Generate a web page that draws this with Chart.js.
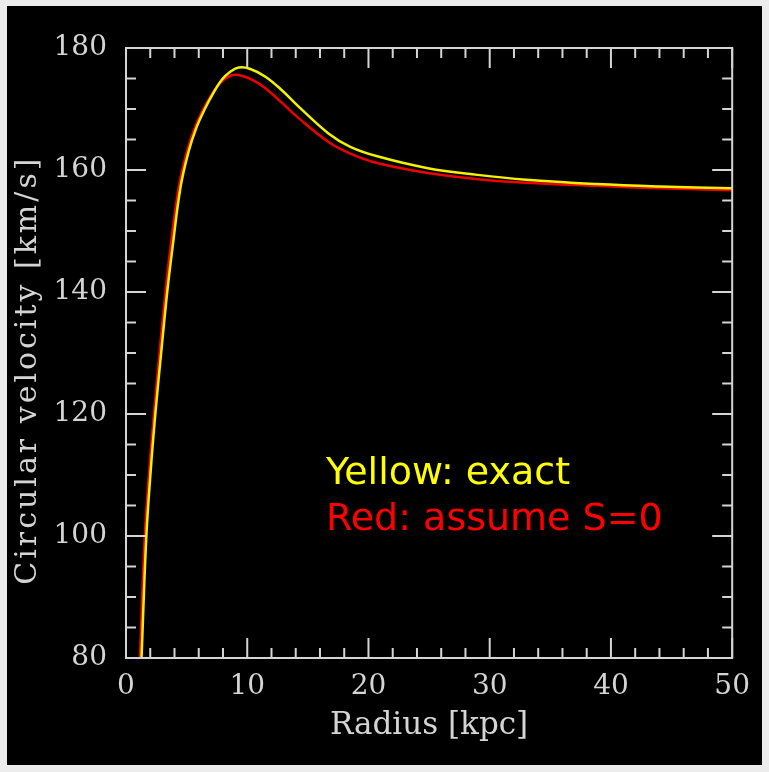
<!DOCTYPE html>
<html>
<head>
<meta charset="utf-8">
<script src="https://cdn.jsdelivr.net/npm/chart.js@4.4.1/dist/chart.umd.min.js"></script>
<style>
    body { margin: 0; background: #ececec; }
    #wrap { position: absolute; left: 7px; top: 6px; width: 755px; height: 759px; background: #000; }
    canvas { display: block; }
</style>
</head>
<body>
<div id="wrap"><canvas id="rotCurve" width="755" height="759"></canvas></div>
<script>
// radius [kpc] and circular velocity [km/s]
const yellowR = [1.28, 1.68, 2.05, 2.42, 2.9, 3.4, 3.82, 4.5, 5.16, 5.8, 6.5, 7.2, 7.9, 8.6, 9.3, 10.2, 11.5, 12.9, 14.24, 16.7, 18.5, 20.8, 24.9, 29.0, 33.0, 38.8, 44.0, 50.0];
const yellowV = [80, 100, 111, 120, 130, 140, 147, 157.2, 163.0, 166.9, 170.0, 172.6, 174.8, 176.1, 176.8, 176.6, 175.3, 173.0, 170.4, 166.0, 163.8, 162.2, 160.3, 159.2, 158.4, 157.7, 157.3, 157.0];

const redR = [1.15, 1.55, 1.93, 2.3, 2.76, 3.25, 3.65, 4.35, 5.0, 5.65, 6.35, 7.05, 7.75, 8.45, 9.0, 9.6, 10.5, 11.5, 12.87, 14.24, 16.7, 18.5, 20.8, 24.9, 29.0, 33.0, 38.8, 44.0, 50.0];
const redV = [80, 100, 111, 120, 130, 140, 147, 157.2, 162.9, 166.8, 169.9, 172.3, 174.2, 175.3, 175.6, 175.4, 174.7, 173.4, 171.0, 168.5, 164.6, 162.7, 161.1, 159.5, 158.5, 157.9, 157.4, 157.0, 156.7];

const xTitle = "Radius [kpc]";
const yTitle = "Circular velocity [km/s]";
const notes = [
    { text: "Yellow: exact", color: "#ffff00", x: 16.5, y: 108.6 },
    { text: "Red: assume S=0", color: "#ff0000", x: 16.5, y: 101.0 }
];

const axisColor = "#d4d4d4";

function toPoints(xs, ys) {
    return xs.map((x, i) => ({ x: x, y: ys[i] }));
}

// frame with inward ticks on all four sides, plus y title and notes
const framePlugin = {
    id: "frame",
    afterDraw(chart) {
        const ctx = chart.ctx;
        const ca = chart.chartArea;
        const xs = chart.scales.x;
        const ys = chart.scales.y;

        ctx.save();
        ctx.strokeStyle = axisColor;
        ctx.lineWidth = 2;
        ctx.strokeRect(ca.left, ca.top, ca.right - ca.left, ca.bottom - ca.top);

        ctx.beginPath();
        for (let v = 0; v <= 50; v += 2) {
            const px = xs.getPixelForValue(v);
            const len = v % 10 === 0 ? 20 : 10;
            ctx.moveTo(px, ca.bottom);
            ctx.lineTo(px, ca.bottom - len);
            ctx.moveTo(px, ca.top);
            ctx.lineTo(px, ca.top + len);
        }
        for (let v = 80; v <= 180; v += 5) {
            const py = ys.getPixelForValue(v);
            const len = (v - 80) % 20 === 0 ? 20 : 10;
            ctx.moveTo(ca.left, py);
            ctx.lineTo(ca.left + len, py);
            ctx.moveTo(ca.right, py);
            ctx.lineTo(ca.right - len, py);
        }
        ctx.stroke();

        // y axis title
        ctx.fillStyle = axisColor;
        ctx.font = "30px 'DejaVu Serif'";
        ctx.letterSpacing = "3px";
        ctx.textAlign = "center";
        ctx.textBaseline = "alphabetic";
        ctx.translate(29, ys.getPixelForValue(127.2));
        ctx.rotate(-Math.PI / 2);
        ctx.fillText(yTitle, 0, 0);
        ctx.restore();

        ctx.save();
        ctx.font = "38px 'DejaVu Sans'";
        ctx.textAlign = "left";
        ctx.textBaseline = "alphabetic";
        notes.forEach(n => {
            ctx.fillStyle = n.color;
            ctx.fillText(n.text, xs.getPixelForValue(n.x), ys.getPixelForValue(n.y));
        });
        ctx.restore();
    }
};

const ctx = document.getElementById("rotCurve");

new Chart(ctx, {
    type: "line",
    data: {
        datasets: [
            {
                label: "exact",
                data: toPoints(yellowR, yellowV),
                borderColor: "#f2f200",
                borderWidth: 2.5,
                pointRadius: 0,
                tension: 0.4
            },
            {
                label: "assume S=0",
                data: toPoints(redR, redV),
                borderColor: "#ee0000",
                borderWidth: 2.5,
                pointRadius: 0,
                tension: 0.4
            }
        ]
    },
    options: {
        responsive: false,
        animation: false,
        devicePixelRatio: 1,
        layout: { padding: { top: 42, right: 25, left: 0, bottom: 0 } },
        plugins: {
            legend: { display: false },
            tooltip: { enabled: false }
        },
        scales: {
            x: {
                type: "linear",
                min: 0,
                max: 50,
                afterFit(scale) { scale.height = 107; },
                grid: { display: false, drawTicks: false, tickLength: 0 },
                border: { display: false },
                ticks: {
                    stepSize: 10,
                    padding: 12,
                    color: axisColor,
                    font: { family: "DejaVu Serif", size: 28, lineHeight: 1.2 }
                },
                title: {
                    display: true,
                    text: xTitle,
                    color: axisColor,
                    padding: { top: 0, bottom: 20 },
                    font: { family: "DejaVu Serif", size: 31, lineHeight: 1.2 }
                }
            },
            y: {
                min: 80,
                max: 180,
                afterFit(scale) { scale.width = 119; },
                grid: { display: false, drawTicks: false, tickLength: 0 },
                border: { display: false },
                ticks: {
                    stepSize: 20,
                    padding: 19,
                    color: axisColor,
                    font: { family: "DejaVu Serif", size: 28, lineHeight: 1.2 }
                }
            }
        }
    },
    plugins: [framePlugin]
});
</script>
</body>
</html>
